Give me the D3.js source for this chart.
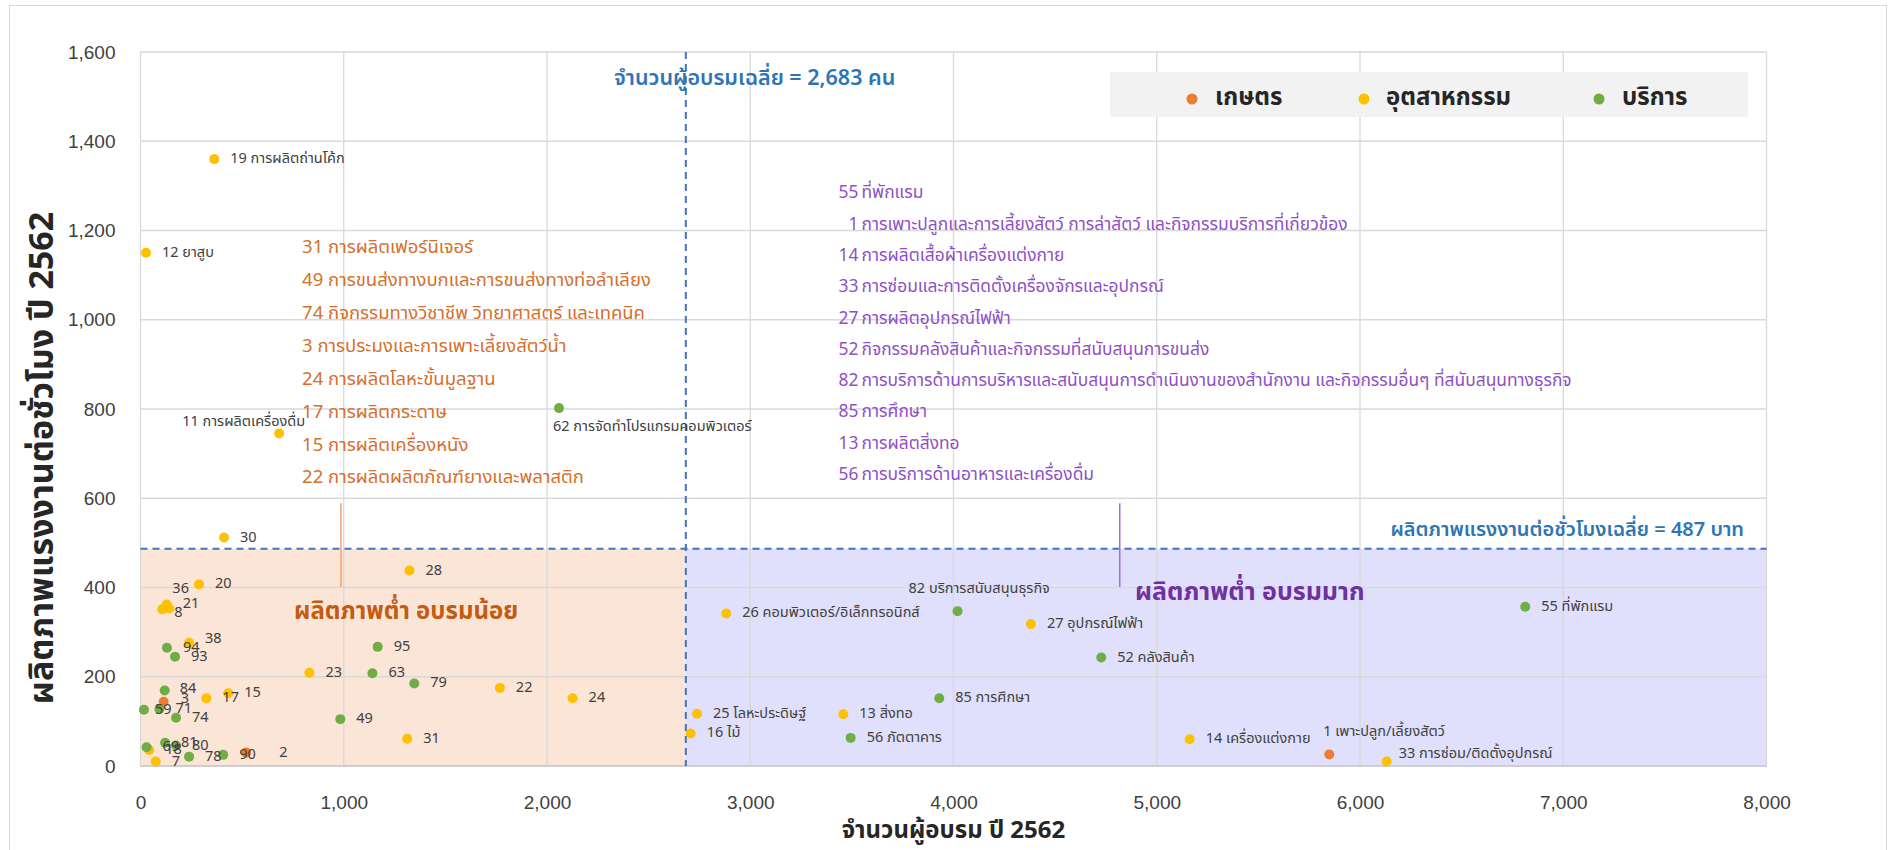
<!DOCTYPE html>
<html>
<head>
<meta charset="utf-8">
<script src="https://cdn.jsdelivr.net/npm/d3@7"></script>
<style>
  body { margin: 0; background: #fff; }
  svg { display: block; font-family: "Noto Sans Thai", "Tahoma", "Leelawadee UI", "Noto Sans", sans-serif; }
</style>
</head>
<body>
<svg id="chart" width="1888" height="850"></svg>
<script>
// Sectors
const sectorNames = ["เกษตร", "อุตสาหกรรม", "บริการ"];
const sectorColors = ["#ED7D31", "#FFC000", "#70AD47"];

// TSIC 2-digit codes, sector index, trainees (2562), labour productivity per hour (2562), short label
const codes = [1, 2, 3, 7, 8, 11, 12, 13, 14, 15, 16, 17, 18, 19, 20, 21, 22, 23, 24, 25, 26, 27, 28, 30, 31, 33, 36, 38,
  49, 52, 55, 56, 59, 62, 63, 69, 71, 74, 78, 79, 80, 81, 82, 84, 85, 90, 93, 94, 95];
const sectors = [0, 0, 0, 1, 1, 1, 1, 1, 1, 1, 1, 1, 1, 1, 1, 1, 1, 1, 1, 1, 1, 1, 1, 1, 1, 1, 1, 1,
  2, 2, 2, 2, 2, 2, 2, 2, 2, 2, 2, 2, 2, 2, 2, 2, 2, 2, 2, 2, 2];
const trainees = [5849, 520, 114, 75, 107, 682, 27, 3458, 5162, 432, 2707, 324, 43, 363, 288, 129, 1768, 831, 2126, 2738, 2882, 4381, 1323, 411, 1312, 6131, 142, 239,
  983, 4727, 6813, 3494, 17, 2059, 1141, 30, 93, 175, 239, 1347, 175, 121, 4020, 119, 3930, 407, 170, 130, 1167];
const productivity = [26, 30, 144, 10, 351, 745, 1150, 116, 60, 163, 73, 152, 36, 1360, 407, 362, 175, 209, 152, 117, 342, 318, 438, 512, 61, 10, 353, 276,
  105, 243, 357, 63, 126, 802, 208, 42, 128, 108, 21, 185, 46, 52, 347, 169, 152, 25, 245, 265, 267];
const shortNames = ["เพาะปลูก/เลี้ยงสัตว์", "", "", "", "", "การผลิตเครื่องดื่ม", "ยาสูบ", "สิ่งทอ", "เครื่องแต่งกาย", "", "ไม้", "", "", "การผลิตถ่านโค้ก", "", "", "", "", "", "โลหะประดิษฐ์", "คอมพิวเตอร์/อิเล็กทรอนิกส์", "อุปกรณ์ไฟฟ้า", "", "", "", "การซ่อม/ติดตั้งอุปกรณ์", "", "",
  "", "คลังสินค้า", "ที่พักแรม", "ภัตตาคาร", "", "การจัดทำโปรแกรมคอมพิวเตอร์", "", "", "", "", "", "", "", "", "บริการสนับสนุนธุรกิจ", "", "การศึกษา", "", "", "", ""];

// Averages used for the reference lines
const avgTrainees = 2683;
const avgProductivity = 487;

// Axis ticks
const xTicks = [0, 1000, 2000, 3000, 4000, 5000, 6000, 7000, 8000];
const yTicks = [0, 200, 400, 600, 800, 1000, 1200, 1400, 1600];

// Annotation lists
const lowTrainList = [
  "31 การผลิตเฟอร์นิเจอร์",
  "49 การขนส่งทางบกและการขนส่งทางท่อลำเลียง",
  "74 กิจกรรมทางวิชาชีพ วิทยาศาสตร์ และเทคนิค",
  "3 การประมงและการเพาะเลี้ยงสัตว์น้ำ",
  "24 การผลิตโลหะขั้นมูลฐาน",
  "17 การผลิตกระดาษ",
  "15 การผลิตเครื่องหนัง",
  "22 การผลิตผลิตภัณฑ์ยางและพลาสติก"
];
const highTrainCodes = ["55", "1", "14", "33", "27", "52", "82", "85", "13", "56"];
const highTrainNames = [
  "ที่พักแรม",
  "การเพาะปลูกและการเลี้ยงสัตว์ การล่าสัตว์ และกิจกรรมบริการที่เกี่ยวข้อง",
  "การผลิตเสื้อผ้าเครื่องแต่งกาย",
  "การซ่อมและการติดตั้งเครื่องจักรและอุปกรณ์",
  "การผลิตอุปกรณ์ไฟฟ้า",
  "กิจกรรมคลังสินค้าและกิจกรรมที่สนับสนุนการขนส่ง",
  "การบริการด้านการบริหารและสนับสนุนการดำเนินงานของสำนักงาน และกิจกรรมอื่นๆ ที่สนับสนุนทางธุรกิจ",
  "การศึกษา",
  "การผลิตสิ่งทอ",
  "การบริการด้านอาหารและเครื่องดื่ม"
];

// Label placement tweaks for crowded points: [dx, dy, anchor]
const labelNudge = {
  1: [-6, -22, "start"], 2: [33, 0, "start"], 3: [17, -3, "start"], 8: [12, 4, "start"],
  11: [26, -12, "end"], 33: [12, -8, "start"], 36: [3, -20, "start"], 38: [16, -4, "start"],
  59: [11, 0, "start"], 62: [-6, 19, "start"], 82: [-49, -22, "start"], 84: [15, -2, "start"]
};

const points = codes.map((c, i) => ({
  code: c, sector: sectors[i], x: trainees[i], y: productivity[i],
  label: shortNames[i] ? c + " " + shortNames[i] : String(c)
}));

const svg = d3.select("#chart");
const plot = { left: 140.5, right: 1766.5, top: 52, bottom: 766 };

const x = d3.scaleLinear().domain([0, 8000]).range([plot.left, plot.right]);
const y = d3.scaleLinear().domain([0, 1600]).range([plot.bottom, plot.top]);

// Chart frame
svg.append("rect").attr("x", 9.5).attr("y", 5.5).attr("width", 1877).attr("height", 860)
  .attr("fill", "#fff").attr("stroke", "#d9d9d9").attr("stroke-width", 1);

// Quadrant shading below the average productivity
svg.append("rect")
  .attr("x", x(0)).attr("y", y(avgProductivity))
  .attr("width", x(avgTrainees) - x(0)).attr("height", y(0) - y(avgProductivity))
  .attr("fill", "#FBE5D6");
svg.append("rect")
  .attr("x", x(avgTrainees)).attr("y", y(avgProductivity))
  .attr("width", x(8000) - x(avgTrainees)).attr("height", y(0) - y(avgProductivity))
  .attr("fill", "#E0E0FC");

// Gridlines
const grid = svg.append("g").attr("stroke", "#d9d9d9").attr("stroke-width", 1.3);
grid.selectAll(".gx").data(xTicks).join("line")
  .attr("x1", d => x(d)).attr("x2", d => x(d)).attr("y1", plot.top).attr("y2", plot.bottom);
grid.selectAll(".gy").data(yTicks).join("line")
  .attr("x1", plot.left).attr("x2", plot.right).attr("y1", d => y(d)).attr("y2", d => y(d));

// Axes
const xAxis = svg.append("g").attr("transform", `translate(0,${plot.bottom})`)
  .call(d3.axisBottom(x).tickValues(xTicks).tickFormat(d3.format(",")).tickSize(0).tickPadding(30));
const yAxis = svg.append("g").attr("transform", `translate(${plot.left},0)`)
  .call(d3.axisLeft(y).tickValues(yTicks).tickFormat(d3.format(",")).tickSize(0).tickPadding(25));
[xAxis, yAxis].forEach(a => {
  a.select(".domain").remove();
  a.selectAll("text").attr("font-size", 19).attr("fill", "#404040").attr("font-family", null);
});
svg.append("line").attr("x1", plot.left).attr("x2", plot.right).attr("y1", plot.bottom).attr("y2", plot.bottom)
  .attr("stroke", "#c8c8c8").attr("stroke-width", 1.5);

// Axis titles
svg.append("text").attr("x", (plot.left + plot.right) / 2).attr("y", 831)
  .attr("text-anchor", "middle").attr("dominant-baseline", "middle")
  .attr("font-size", 24).attr("font-weight", "bold").attr("fill", "#262626")
  .text("จำนวนผู้อบรม ปี 2562");
svg.append("text").attr("transform", "translate(44,458) rotate(-90)")
  .attr("text-anchor", "middle").attr("dominant-baseline", "middle")
  .attr("font-size", 34).attr("font-weight", "bold").attr("fill", "#262626")
  .text("ผลิตภาพแรงงานต่อชั่วโมง ปี 2562");

// Average reference lines
svg.append("line")
  .attr("x1", x(avgTrainees)).attr("x2", x(avgTrainees)).attr("y1", plot.top).attr("y2", plot.bottom)
  .attr("stroke", "#4472C4").attr("stroke-width", 2).attr("stroke-dasharray", "7,5");
svg.append("line")
  .attr("x1", plot.left).attr("x2", plot.right).attr("y1", y(avgProductivity)).attr("y2", y(avgProductivity))
  .attr("stroke", "#4472C4").attr("stroke-width", 2).attr("stroke-dasharray", "7,5");
svg.append("text").attr("x", 614).attr("y", 79).attr("dominant-baseline", "middle")
  .attr("font-size", 21.5).attr("font-weight", 600).attr("fill", "#2E75B6")
  .text("จำนวนผู้อบรมเฉลี่ย = " + d3.format(",")(avgTrainees) + " คน");
svg.append("text").attr("x", 1744).attr("y", 530).attr("text-anchor", "end").attr("dominant-baseline", "middle")
  .attr("font-size", 20).attr("font-weight", 600).attr("fill", "#2E75B6")
  .text("ผลิตภาพแรงงานต่อชั่วโมงเฉลี่ย = " + avgProductivity + " บาท");

// Quadrant annotations: leader lines, headings and lists
svg.append("line").attr("x1", x(986)).attr("x2", x(986)).attr("y1", y(589)).attr("y2", y(401))
  .attr("stroke", "#F4A070").attr("stroke-width", 1.5);
svg.append("line").attr("x1", x(4818)).attr("x2", x(4818)).attr("y1", y(589)).attr("y2", y(401))
  .attr("stroke", "#A070D0").attr("stroke-width", 1.5);

svg.append("text").attr("x", x(1307)).attr("y", y(345)).attr("text-anchor", "middle").attr("dominant-baseline", "middle")
  .attr("font-size", 24).attr("font-weight", "bold").attr("fill", "#C55A11").text("ผลิตภาพต่ำ อบรมน้อย");
svg.append("text").attr("x", x(4893)).attr("y", y(388)).attr("dominant-baseline", "middle")
  .attr("font-size", 25).attr("font-weight", "bold").attr("fill", "#7030A0").text("ผลิตภาพต่ำ อบรมมาก");

const lowList = svg.append("g");
lowList.selectAll("text").data(lowTrainList).join("text")
  .attr("x", x(795)).attr("y", (d, i) => 248 + i * 32.9).attr("dominant-baseline", "middle")
  .attr("font-size", 18.5).attr("fill", "#D5702C").text(d => d);

const highList = svg.append("g");
highList.selectAll(".num").data(highTrainCodes).join("text").attr("class", "num")
  .attr("x", 858.5).attr("y", (d, i) => 193.5 + i * 31.3).attr("text-anchor", "end").attr("dominant-baseline", "middle")
  .attr("font-size", 17.4).attr("fill", "#8E50C6").text(d => d);
highList.selectAll(".nm").data(highTrainNames).join("text").attr("class", "nm")
  .attr("x", 861.5).attr("y", (d, i) => 193.5 + i * 31.3).attr("dominant-baseline", "middle")
  .attr("font-size", 17.4).attr("fill", "#8E50C6").text(d => d);

// Points
svg.append("g").selectAll("circle").data(points).join("circle")
  .attr("cx", d => x(d.x)).attr("cy", d => y(d.y)).attr("r", 5)
  .attr("fill", d => sectorColors[d.sector]);

// Point labels
svg.append("g").selectAll("text").data(points).join("text")
  .attr("x", d => x(d.x) + (labelNudge[d.code] ? labelNudge[d.code][0] : 16))
  .attr("y", d => y(d.y) + (labelNudge[d.code] ? labelNudge[d.code][1] : 0))
  .attr("text-anchor", d => labelNudge[d.code] ? labelNudge[d.code][2] : "start")
  .attr("dominant-baseline", "middle")
  .attr("font-size", 14.5).attr("fill", "#404040")
  .text(d => d.label);

// Legend
const legend = svg.append("g");
legend.append("rect").attr("x", 1110).attr("y", 72).attr("width", 638).attr("height", 45).attr("fill", "#F2F2F2");
const legendDotX = [1192, 1364, 1599];
const legendTextX = [1215, 1386, 1622];
sectorNames.forEach((name, i) => {
  legend.append("circle").attr("cx", legendDotX[i]).attr("cy", 99).attr("r", 5.5).attr("fill", sectorColors[i]);
  legend.append("text").attr("x", legendTextX[i]).attr("y", 98).attr("dominant-baseline", "middle")
    .attr("font-size", 24).attr("font-weight", "bold").attr("fill", "#262626").text(name);
});
</script>
</body>
</html>
